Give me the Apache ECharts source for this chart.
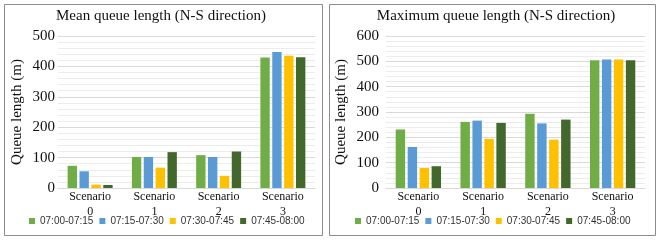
<!DOCTYPE html>
<html>
<head>
<meta charset="utf-8">
<script src="https://cdn.jsdelivr.net/npm/echarts@6/dist/echarts.min.js"></script>
<style>
  html, body { margin: 0; padding: 0; background: #fff; }
  #main { width: 658px; height: 241px; }
</style>
</head>
<body>
<div id="main"></div>
<script>
var categories = ['Scenario\n0', 'Scenario\n1', 'Scenario\n2', 'Scenario\n3'];
var periods = ['07:00-07:15', '07:15-07:30', '07:30-07:45', '07:45-08:00'];
var colors = ['#70AD47', '#5B9BD5', '#FFC000', '#43682B'];

// mean queue length, one array per time period (scenario 0..3)
var mean0700 = [73, 102, 108, 429];
var mean0715 = [55, 102, 102, 447];
var mean0730 = [11, 67, 40, 435];
var mean0745 = [10, 118, 120, 430];

// maximum queue length
var max0700 = [231, 261, 293, 504];
var max0715 = [162, 266, 255, 507];
var max0730 = [79, 194, 191, 507];
var max0745 = [86, 257, 270, 504];

var meanData = [mean0700, mean0715, mean0730, mean0745];
var maxData = [max0700, max0715, max0730, max0745];

var serif = 'Liberation Serif';
var sans = 'Liberation Sans';
var chart = echarts.init(document.getElementById('main'));

function yAxisFor(gridIndex, max, margin, nameGap) {
    return {
        type: 'value',
        gridIndex: gridIndex,
        min: 0,
        max: max,
        interval: 100,
        name: 'Queue length (m)',
        nameLocation: 'middle',
        nameRotate: 90,
        nameGap: nameGap,
        nameTextStyle: { fontFamily: serif, fontSize: 15, color: '#111' },
        axisLabel: { fontFamily: serif, fontSize: 15, color: '#111', margin: margin },
        axisLine: { show: false },
        axisTick: { show: false },
        splitLine: { lineStyle: { color: '#d9d9d9', width: 1 } },
        minorTick: { show: false, splitNumber: 5 },
        minorSplitLine: { show: true, lineStyle: { color: '#ececec', width: 1 } }
    };
}

function xAxisFor(gridIndex) {
    return {
        type: 'category',
        gridIndex: gridIndex,
        data: categories,
        axisLine: { lineStyle: { color: '#d9d9d9' } },
        axisTick: { show: false },
        axisLabel: { fontFamily: serif, fontSize: 12, color: '#111', lineHeight: 15, margin: 1 }
    };
}

var series = [];
periods.forEach(function (name, i) {
    series.push({
        name: name, type: 'bar', xAxisIndex: 0, yAxisIndex: 0,
        data: meanData[i], itemStyle: { color: colors[i] },
        barGap: '27%', barCategoryGap: '30%'
    });
    series.push({
        name: name, type: 'bar', xAxisIndex: 1, yAxisIndex: 1,
        data: maxData[i], itemStyle: { color: colors[i] },
        barGap: '27%', barCategoryGap: '30%'
    });
});

var option = {
    animation: false,
    color: colors,
    graphic: [
        { type: 'rect', shape: { x: 4.5, y: 4.5, width: 318, height: 231 },
          style: { fill: 'none', stroke: '#8c8c8c', lineWidth: 1 } },
        { type: 'rect', shape: { x: 329.5, y: 4.5, width: 326, height: 231 },
          style: { fill: 'none', stroke: '#8c8c8c', lineWidth: 1 } },
        { type: 'text', x: 161, y: 16,
          style: { text: 'Mean queue length (N-S direction)', fontFamily: serif, fontSize: 15,
                   fill: '#111', align: 'center', verticalAlign: 'middle' } },
        { type: 'text', x: 496, y: 16,
          style: { text: 'Maximum queue length (N-S direction)', fontFamily: serif, fontSize: 15,
                   fill: '#111', align: 'center', verticalAlign: 'middle' } }
    ],
    legend: [
        { left: 29, top: 216, data: periods, icon: 'rect', itemWidth: 6, itemHeight: 6, itemGap: 6,
          padding: 0, textStyle: { fontFamily: sans, fontSize: 10, color: '#333' } },
        { left: 355, top: 216, data: periods, icon: 'rect', itemWidth: 6, itemHeight: 6, itemGap: 6,
          padding: 0, textStyle: { fontFamily: sans, fontSize: 10, color: '#333' } }
    ],
    grid: [
        { left: 58, top: 36, width: 257, height: 152 },
        { left: 386, top: 36, width: 259, height: 152 }
    ],
    xAxis: [xAxisFor(0), xAxisFor(1)],
    yAxis: [yAxisFor(0, 500, 3, 33), yAxisFor(1, 600, 7, 37)],
    series: series
};
chart.setOption(option);
</script>
</body>
</html>
